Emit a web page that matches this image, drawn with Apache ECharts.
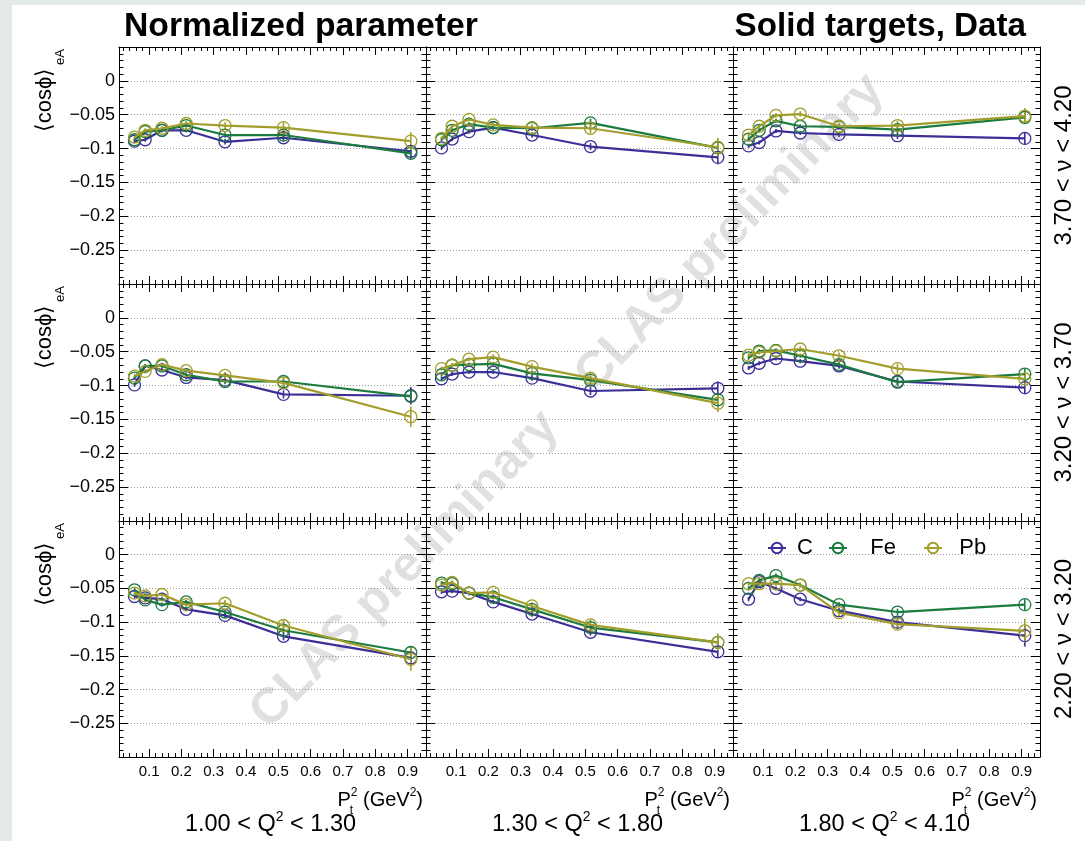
<!DOCTYPE html>
<html><head><meta charset="utf-8">
<script src="https://cdn.jsdelivr.net/npm/echarts@6/dist/echarts.min.js"></script>
<style>html,body{margin:0;padding:0;background:#fff}#c{width:1085px;height:841px}</style>
</head><body><div id="c"></div>
<script>
// ---------------- DATA ----------------
const ptBins = [0.055, 0.088, 0.140, 0.215, 0.335, 0.516, 0.910];
const xTickLabels = [0.1, 0.2, 0.3, 0.4, 0.5, 0.6, 0.7, 0.8, 0.9];
const yTickLabels = [0, -0.05, -0.1, -0.15, -0.2, -0.25];
const targets = ['C', 'Fe', 'Pb'];
const nuBins = ['3.70 < ν < 4.20', '3.20 < ν < 3.70', '2.20 < ν < 3.20'];
const q2Low = ['1.00', '1.30', '1.80'];
const q2High = ['1.30', '1.80', '4.10'];

// row 1: 3.70 < nu < 4.20
const r1c1_C  = [-0.089, -0.087, -0.073, -0.073, -0.090, -0.084, -0.104];
const r1c1_Fe = [-0.087, -0.075, -0.073, -0.066, -0.080, -0.080, -0.107];
const r1c1_Pb = [-0.083, -0.073, -0.070, -0.063, -0.066, -0.069, -0.089];
const r1c2_C  = [-0.099, -0.086, -0.075, -0.069, -0.080, -0.097, -0.113];
const r1c2_Fe = [-0.087, -0.073, -0.064, -0.069, -0.070, -0.062, -0.099];
const r1c2_Pb = [-0.085, -0.067, -0.057, -0.065, -0.069, -0.070, -0.098];
const r1c3_C  = [-0.096, -0.091, -0.074, -0.077, -0.079, -0.081, -0.085];
const r1c3_Fe = [-0.086, -0.073, -0.059, -0.067, -0.068, -0.072, -0.054];
const r1c3_Pb = [-0.080, -0.067, -0.051, -0.049, -0.067, -0.066, -0.052];
// row 2: 3.20 < nu < 3.70
const r2c1_C  = [-0.099, -0.071, -0.077, -0.088, -0.092, -0.113, -0.115];
const r2c1_Fe = [-0.089, -0.071, -0.071, -0.084, -0.094, -0.094, -0.116];
const r2c1_Pb = [-0.086, -0.079, -0.069, -0.078, -0.085, -0.096, -0.146];
const r2c2_C  = [-0.090, -0.083, -0.080, -0.080, -0.089, -0.108, -0.104];
const r2c2_Fe = [-0.084, -0.070, -0.069, -0.068, -0.082, -0.092, -0.121];
const r2c2_Pb = [-0.075, -0.070, -0.061, -0.058, -0.072, -0.089, -0.126];
const r2c3_C  = [-0.074, -0.067, -0.060, -0.064, -0.071, -0.094, -0.103];
const r2c3_Fe = [-0.059, -0.049, -0.048, -0.056, -0.069, -0.095, -0.083];
const r2c3_Pb = [-0.055, -0.051, -0.049, -0.046, -0.056, -0.075, -0.090];
// row 3: 2.20 < nu < 3.20
const r3c1_C  = [-0.062, -0.064, -0.066, -0.081, -0.090, -0.121, -0.153];
const r3c1_Fe = [-0.052, -0.067, -0.074, -0.070, -0.085, -0.112, -0.145];
const r3c1_Pb = [-0.057, -0.061, -0.059, -0.074, -0.072, -0.105, -0.155];
const r3c2_C  = [-0.055, -0.054, -0.057, -0.070, -0.088, -0.115, -0.144];
const r3c2_Fe = [-0.042, -0.043, -0.057, -0.063, -0.081, -0.108, -0.130];
const r3c2_Pb = [-0.045, -0.041, -0.057, -0.056, -0.076, -0.104, -0.130];
const r3c3_C  = [-0.066, -0.040, -0.050, -0.066, -0.083, -0.100, -0.120];
const r3c3_Fe = [-0.050, -0.038, -0.031, -0.045, -0.074, -0.085, -0.074];
const r3c3_Pb = [-0.043, -0.043, -0.043, -0.045, -0.086, -0.103, -0.113];

// statistical errors
const r1c1_eC = [0.003, 0.003, 0.003, 0.003, 0.004, 0.005, 0.009];
const r1c1_eFe = [0.003, 0.003, 0.003, 0.003, 0.004, 0.005, 0.009];
const r1c1_ePb = [0.003, 0.003, 0.003, 0.004, 0.005, 0.008, 0.013];
const r1c2_eC = [0.003, 0.003, 0.003, 0.003, 0.004, 0.005, 0.010];
const r1c2_eFe = [0.003, 0.003, 0.003, 0.003, 0.004, 0.006, 0.009];
const r1c2_ePb = [0.003, 0.003, 0.003, 0.004, 0.005, 0.007, 0.014];
const r1c3_eC = [0.003, 0.003, 0.003, 0.003, 0.004, 0.005, 0.009];
const r1c3_eFe = [0.003, 0.003, 0.003, 0.003, 0.004, 0.005, 0.009];
const r1c3_ePb = [0.003, 0.003, 0.003, 0.004, 0.005, 0.007, 0.012];
const r2c1_eC = [0.003, 0.003, 0.003, 0.003, 0.004, 0.006, 0.013];
const r2c1_eFe = [0.003, 0.003, 0.003, 0.003, 0.004, 0.006, 0.010];
const r2c1_ePb = [0.003, 0.003, 0.003, 0.004, 0.005, 0.008, 0.015];
const r2c2_eC = [0.003, 0.003, 0.003, 0.003, 0.004, 0.006, 0.010];
const r2c2_eFe = [0.003, 0.003, 0.003, 0.003, 0.004, 0.006, 0.010];
const r2c2_ePb = [0.003, 0.003, 0.003, 0.004, 0.005, 0.007, 0.013];
const r2c3_eC = [0.003, 0.003, 0.003, 0.003, 0.004, 0.006, 0.010];
const r2c3_eFe = [0.003, 0.003, 0.003, 0.003, 0.004, 0.005, 0.008];
const r2c3_ePb = [0.003, 0.003, 0.003, 0.004, 0.005, 0.007, 0.010];
const r3c1_eC = [0.003, 0.003, 0.003, 0.003, 0.004, 0.006, 0.010];
const r3c1_eFe = [0.003, 0.003, 0.003, 0.003, 0.004, 0.005, 0.008];
const r3c1_ePb = [0.003, 0.003, 0.003, 0.004, 0.005, 0.008, 0.017];
const r3c2_eC = [0.003, 0.003, 0.003, 0.003, 0.004, 0.005, 0.009];
const r3c2_eFe = [0.003, 0.003, 0.003, 0.003, 0.004, 0.005, 0.008];
const r3c2_ePb = [0.003, 0.003, 0.003, 0.004, 0.005, 0.008, 0.013];
const r3c3_eC = [0.003, 0.003, 0.003, 0.003, 0.004, 0.008, 0.016];
const r3c3_eFe = [0.003, 0.003, 0.003, 0.003, 0.004, 0.005, 0.008];
const r3c3_ePb = [0.003, 0.003, 0.003, 0.004, 0.005, 0.008, 0.018];

const panelValues = [
  [r1c1_C, r1c1_Fe, r1c1_Pb], [r1c2_C, r1c2_Fe, r1c2_Pb], [r1c3_C, r1c3_Fe, r1c3_Pb],
  [r2c1_C, r2c1_Fe, r2c1_Pb], [r2c2_C, r2c2_Fe, r2c2_Pb], [r2c3_C, r2c3_Fe, r2c3_Pb],
  [r3c1_C, r3c1_Fe, r3c1_Pb], [r3c2_C, r3c2_Fe, r3c2_Pb], [r3c3_C, r3c3_Fe, r3c3_Pb]
];
const panelErrors = [
  [r1c1_eC, r1c1_eFe, r1c1_ePb], [r1c2_eC, r1c2_eFe, r1c2_ePb], [r1c3_eC, r1c3_eFe, r1c3_ePb],
  [r2c1_eC, r2c1_eFe, r2c1_ePb], [r2c2_eC, r2c2_eFe, r2c2_ePb], [r2c3_eC, r2c3_eFe, r2c3_ePb],
  [r3c1_eC, r3c1_eFe, r3c1_ePb], [r3c2_eC, r3c2_eFe, r3c2_ePb], [r3c3_eC, r3c3_eFe, r3c3_ePb]
];

// ---------------- LAYOUT / STYLE ----------------
const FONT = '"Liberation Sans", Arial, Helvetica, sans-serif';
const colors = {C: '#3b2f97', Fe: '#1c7b3e', Pb: '#a39e2c'};
const colLeft = [119, 426, 733];
const colW = 307;
const rowTop = [47, 284, 521];
const rowH = [237, 237, 236];
const X_MIN = 0.007, X_MAX = 0.957;
const Y_MIN = -0.3, Y_MAX = 0.05;
const xMinorTicks = [];
for (let k = 1; k * 0.02 < X_MAX; k++) xMinorTicks.push(+(k * 0.02).toFixed(2));

const grids = [], xAxes = [], yAxes = [], series = [];
const black = {color: '#000', width: 1};

function yFmt(v) {
  const r = Math.round(v * 100) / 100;
  if (!yTickLabels.some(t => Math.abs(t - r) < 1e-9)) return '';
  if (r === 0) return '0';
  return (r < 0 ? '\u2212' : '') + String(Math.abs(r));
}

for (let r = 0; r < 3; r++) {
  for (let c = 0; c < 3; c++) {
    const g = r * 3 + c;
    grids.push({left: colLeft[c], top: rowTop[r], width: colW, height: rowH[r]});
    const base = {type: 'value', gridIndex: g, min: X_MIN, max: X_MAX, splitLine: {show: false}};
    xAxes.push(Object.assign({}, base, {
      position: 'bottom',
      axisLine: {show: true, onZero: false, lineStyle: black},
      axisTick: {show: true, inside: true, length: 8, customValues: xTickLabels, lineStyle: black},
      axisLabel: {show: r === 2, customValues: xTickLabels, fontSize: 15, margin: 7, color: '#000', fontFamily: FONT,
                  formatter: v => (+v).toFixed(1)}
    }));
    xAxes.push(Object.assign({}, base, {
      position: 'bottom', axisLine: {show: false, onZero: false},
      axisTick: {show: true, inside: true, length: 4, customValues: xMinorTicks, lineStyle: black},
      axisLabel: {show: false}
    }));
    xAxes.push(Object.assign({}, base, {
      position: 'top',
      axisLine: {show: true, onZero: false, lineStyle: black},
      axisTick: {show: true, inside: true, length: 8, customValues: xTickLabels, lineStyle: black},
      axisLabel: {show: false}
    }));
    xAxes.push(Object.assign({}, base, {
      position: 'top', axisLine: {show: false, onZero: false},
      axisTick: {show: true, inside: true, length: 4, customValues: xMinorTicks, lineStyle: black},
      axisLabel: {show: false}
    }));
    const ybase = {type: 'value', gridIndex: g, min: Y_MIN, max: Y_MAX, interval: 0.05,
      axisLine: {show: true, onZero: false, lineStyle: black},
      axisTick: {show: true, inside: true, length: 9, lineStyle: black},
      minorTick: {show: true, splitNumber: 5, length: 4.5, lineStyle: black}};
    yAxes.push(Object.assign({}, ybase, {
      position: 'left',
      splitLine: {show: true, lineStyle: {color: '#9a9a9a', width: 1, type: [1, 2]}},
      axisLabel: {show: c === 0, showMinLabel: false, showMaxLabel: false, fontSize: 18, margin: 4,
                  color: '#000', fontFamily: FONT, formatter: yFmt}
    }));
    yAxes.push(Object.assign({}, ybase, {
      position: 'right', splitLine: {show: false}, axisLabel: {show: false}
    }));

    targets.forEach((t, i) => {
      const vals = panelValues[g][i];
      const errs = panelErrors[g][i];
      const col = colors[t];
      series.push({
        type: 'custom', name: t + ' err', xAxisIndex: 4 * g, yAxisIndex: 2 * g, silent: true, z: 3,
        data: ptBins.map((x, k) => [x, vals[k], errs[k]]),
        encode: {x: 0, y: 1},
        renderItem: (params, api) => {
          const x = api.value(0), y = api.value(1), e = api.value(2);
          const p1 = api.coord([x, y + e]), p2 = api.coord([x, y - e]);
          return {type: 'line', shape: {x1: p1[0], y1: p1[1], x2: p2[0], y2: p2[1]},
                  style: {stroke: col, lineWidth: 1.6}};
        }
      });
      series.push({
        type: 'line', name: t, xAxisIndex: 4 * g, yAxisIndex: 2 * g, z: 4 + i,
        data: ptBins.map((x, k) => [x, vals[k]]),
        symbol: 'circle', symbolSize: 12, showSymbol: true,
        itemStyle: {color: 'rgba(255,255,255,0)', borderColor: col, borderWidth: 1.3},
        lineStyle: {color: col, width: 2.2},
        emphasis: {disabled: true}
      });
    });
  }
}

const cv = document.createElement('canvas').getContext('2d');
function tw(txt, size) { cv.font = size + 'px ' + FONT; return cv.measureText(txt).width; }

const graphics = [
  {type: 'rect', z: -100, shape: {x: 0, y: 0, width: 1085, height: 841}, style: {fill: '#e4e9e9'}},
  {type: 'rect', z: -99, shape: {x: 12, y: 5, width: 1073, height: 836}, style: {fill: '#ffffff'}},
  {type: 'text', z: -50, x: 405, y: 570, rotation: 46 * Math.PI / 180,
   style: {text: 'CLAS preliminary', fontSize: 50, fontWeight: 'bold', fontFamily: FONT, fill: 'rgba(0,0,0,0.12)', align: 'center', verticalAlign: 'middle'}},
  {type: 'text', z: -50, x: 730, y: 233, rotation: 46 * Math.PI / 180,
   style: {text: 'CLAS preliminary', fontSize: 50, fontWeight: 'bold', fontFamily: FONT, fill: 'rgba(0,0,0,0.12)', align: 'center', verticalAlign: 'middle'}},
  {type: 'text', x: 124, y: 27, style: {text: 'Normalized parameter', fontSize: 33.7, fontWeight: 'bold', fontFamily: FONT, fill: '#000', align: 'left', verticalAlign: 'middle'}},
  {type: 'text', x: 1026, y: 27, style: {text: 'Solid targets, Data', fontSize: 33.2, fontWeight: 'bold', fontFamily: FONT, fill: '#000', align: 'right', verticalAlign: 'middle'}}
];
for (let r = 0; r < 3; r++) {
  graphics.push({type: 'text', x: 45, y: rowTop[r] + 53, rotation: Math.PI / 2,
    style: {text: '\u27E8cos\u03D5\u27E9', fontSize: 22, fontFamily: FONT, fill: '#000', align: 'center', verticalAlign: 'middle'}});
  graphics.push({type: 'text', x: 60, y: rowTop[r] + 10, rotation: Math.PI / 2,
    style: {text: 'eA', fontSize: 13, fontFamily: FONT, fill: '#000', align: 'center', verticalAlign: 'middle'}});
  graphics.push({type: 'text', x: 1064, y: rowTop[r] + rowH[r] / 2, rotation: Math.PI / 2,
    style: {text: nuBins[r], fontSize: 24, fontFamily: FONT, fill: '#000', align: 'center', verticalAlign: 'middle'}});
}
for (let c = 0; c < 3; c++) {
  const right = colLeft[c] + colW - 3;
  const W = tw('P', 20) + tw('2', 12) + tw(' (GeV', 20) + tw('2', 12) + tw(')', 20);
  graphics.push({type: 'text', x: right, y: 800,
    style: {text: '{a|P}{s|2}{a| (GeV}{s|2}{a|)}', align: 'right', verticalAlign: 'middle', fill: '#000',
      rich: {a: {fontSize: 20, fontFamily: FONT, lineHeight: 26, fill: '#000'},
             s: {fontSize: 12, fontFamily: FONT, verticalAlign: 'top', fill: '#000'}}}});
  graphics.push({type: 'text', x: right - W + tw('P', 20) - 1, y: 811,
    style: {text: 't', fontSize: 12, fontFamily: FONT, fill: '#000', align: 'left', verticalAlign: 'middle'}});
  graphics.push({type: 'text', x: colLeft[c] + colW / 2 - 2, y: 825,
    style: {text: '{a|' + q2Low[c] + ' < Q}{s|2}{a| < ' + q2High[c] + '}', align: 'center', verticalAlign: 'middle', fill: '#000',
      rich: {a: {fontSize: 23.5, fontFamily: FONT, lineHeight: 30, fill: '#000'},
             s: {fontSize: 14, fontFamily: FONT, verticalAlign: 'top', fill: '#000'}}}});
}

const legendBase = {orient: 'horizontal', top: 537, padding: 0, itemWidth: 18, itemHeight: 13,
  selectedMode: false, textStyle: {fontSize: 22, color: '#000', fontFamily: FONT}};
const legendPos = [767, 828, 923];
const legendPad = [' ', '   ', '  '];
const legends = targets.map((t, i) => Object.assign({}, legendBase, {
  data: [t], left: legendPos[i], formatter: n => legendPad[i] + n
}));

const chart = echarts.init(document.getElementById('c'), null, {renderer: 'canvas'});
chart.setOption({
  animation: false,
  backgroundColor: '#ffffff',
  grid: grids, xAxis: xAxes, yAxis: yAxes, series: series,
  legend: legends, graphic: graphics
});
</script></body></html>
